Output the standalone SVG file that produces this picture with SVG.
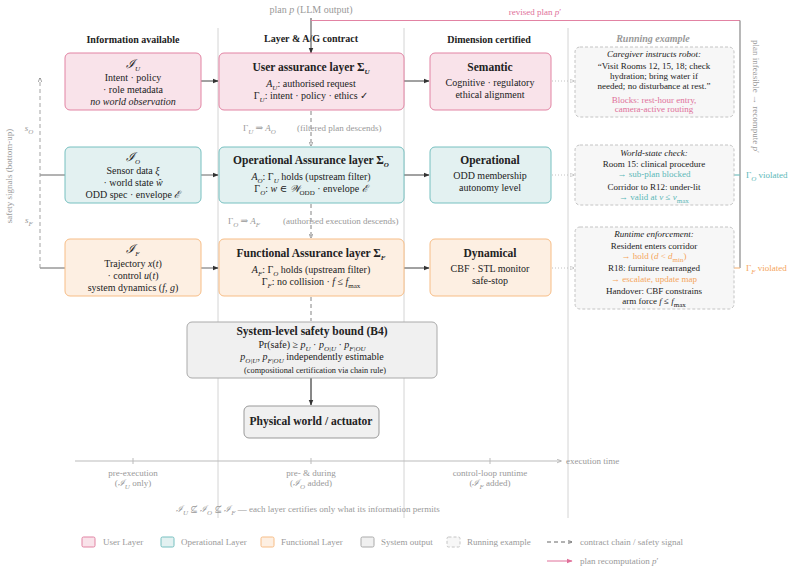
<svg xmlns="http://www.w3.org/2000/svg" width="797" height="572" viewBox="0 0 797 572">
<defs>
<style>
text{font-family:"Liberation Serif","DejaVu Serif",serif;font-size:10px;fill:#222;text-anchor:middle}
.b{font-weight:bold;font-size:11.5px}
.h{font-weight:bold;font-size:10px}
.i{font-style:italic}
.sb{font-size:7px;baseline-shift:-2.5px}
.g{fill:#999}
.sm{font-size:9px}
.xs{font-size:8.3px}
.l{text-anchor:start}
.pk{fill:#e0709a}
.tl{fill:#5bb8b8}
.or{fill:#f5a55c}
.U{fill:#f9e3ea;stroke:#e283a3;stroke-width:1}
.O{fill:#e3f1f1;stroke:#76c0c0;stroke-width:1}
.F{fill:#fdefe2;stroke:#f7bd86;stroke-width:1}
.S{fill:#f0f0f0;stroke:#aaa;stroke-width:1}
.R{fill:#f7f7f7;stroke:#c4c4c4;stroke-width:1;stroke-dasharray:3 2}
.sep{stroke:#d4d4d4;stroke-width:1;fill:none}
.ar{stroke:#444;stroke-width:1;fill:none;marker-end:url(#ah)}
.da{stroke:#777;stroke-width:0.9;fill:none;stroke-dasharray:4 3;marker-end:url(#ahg)}
.dt{stroke:#bbb;stroke-width:0.9;fill:none;stroke-dasharray:1 2;marker-end:url(#ahl)}
</style>
<marker id="ah" viewBox="0 0 10 10" refX="9" refY="5" markerWidth="6" markerHeight="6" orient="auto"><path d="M0,1 L10,5 L0,9 Z" fill="#333"/></marker>
<marker id="ahg" viewBox="0 0 10 10" refX="9" refY="5" markerWidth="5" markerHeight="5" orient="auto"><path d="M0,1 L10,5 L0,9" fill="none" stroke="#777" stroke-width="1.5"/></marker>
<marker id="ahl" viewBox="0 0 10 10" refX="9" refY="5" markerWidth="5" markerHeight="5" orient="auto"><path d="M0,1 L10,5 L0,9" fill="none" stroke="#bbb" stroke-width="1.5"/></marker>
<marker id="ahp" viewBox="0 0 10 10" refX="9" refY="5" markerWidth="6" markerHeight="6" orient="auto"><path d="M0,1 L10,5 L0,9 Z" fill="#e0709a"/></marker>
<marker id="aht" viewBox="0 0 10 10" refX="9" refY="5" markerWidth="5" markerHeight="5" orient="auto"><path d="M0,1 L10,5 L0,9" fill="none" stroke="#aaa" stroke-width="1.5"/></marker>
</defs>
<rect width="797" height="572" fill="#fff"/>

<g id="separators">
<line class="sep" x1="218" y1="28" x2="218" y2="518"/>
<line class="sep" x1="404" y1="28" x2="404" y2="518"/>
<line class="sep" x1="568" y1="28" x2="568" y2="518"/>
</g>

<g id="headers">
<text x="311" y="13" class="g">plan <tspan class="i">p</tspan> (LLM output)</text>
<text x="535" y="15" class="pk sm">revised plan <tspan class="i">p</tspan>′</text>
<text x="133" y="43" class="h">Information available</text>
<text x="311" y="42" class="h">Layer &amp; A/G contract</text>
<text x="489" y="43" class="h">Dimension certified</text>
<text x="653" y="42" class="h i g">Running example</text>
</g>

<g id="connectors">
<line class="ar" x1="311" y1="18" x2="311" y2="53"/>
<path d="M311,20.5 H740" stroke="#e283a3" stroke-width="1.2" fill="none"/>
<path d="M740,20.5 V268" stroke="#888" stroke-width="1.2" fill="none"/>
<line x1="734" y1="175" x2="740" y2="175" stroke="#76c0c0" stroke-width="1.2"/>
<line x1="734" y1="268" x2="740" y2="268" stroke="#f7bd86" stroke-width="1.2"/>
<line class="ar" x1="201" y1="81" x2="218" y2="81"/>
<line class="ar" x1="40" y1="175" x2="218" y2="175" style="stroke:#666"/>
<line class="ar" x1="40" y1="268" x2="218" y2="268" style="stroke:#666"/>
<line class="da" x1="40" y1="268" x2="40" y2="78" style="stroke:#999"/>
<line class="ar" x1="404" y1="81" x2="429" y2="81"/>
<line class="ar" x1="404" y1="175" x2="429" y2="175"/>
<line class="ar" x1="404" y1="268" x2="429" y2="268"/>
<line class="dt" x1="552" y1="81" x2="574" y2="81"/>
<line class="dt" x1="552" y1="175" x2="574" y2="175"/>
<line class="dt" x1="552" y1="268" x2="574" y2="268"/>
<line class="da" x1="311" y1="111" x2="311" y2="146"/>
<line class="da" x1="311" y1="204" x2="311" y2="238"/>
<line class="da" x1="311" y1="297" x2="311" y2="321" style="marker-end:none"/>
<line class="ar" x1="311" y1="364" x2="311" y2="405" style="stroke:#111"/>
</g>

<g id="connector-labels">
<text x="243" y="131" class="g sm l">Γ<tspan class="sb i">U</tspan> ⇒ <tspan class="i">A</tspan><tspan class="sb i">O</tspan></text>
<text x="297" y="131" class="g sm l">(filtered plan descends)</text>
<text x="228" y="224" class="g sm l">Γ<tspan class="sb i">O</tspan> ⇒ <tspan class="i">A</tspan><tspan class="sb i">F</tspan></text>
<text x="283" y="224" class="g sm l">(authorised execution descends)</text>
<text x="746" y="178" class="tl sm l">Γ<tspan class="sb i">O</tspan> violated</text>
<text x="746" y="271" class="or sm l">Γ<tspan class="sb i">F</tspan> violated</text>
<text transform="translate(753,40) rotate(90)" class="g sm l">plan infeasible → recompute <tspan class="i">p</tspan>′</text>
<text transform="translate(12,176) rotate(-90)" class="g sm">safety signals (bottom-up)</text>
<text x="29" y="131" class="g sm i">s<tspan class="sb">O</tspan></text>
<text x="29" y="223" class="g sm i">s<tspan class="sb">F</tspan></text>
</g>

<g id="info-U">
<rect class="U" x="65" y="53" width="136" height="57" rx="5"/>
<text x="133" y="68" style="font-size:12px"><tspan class="i">ℐ</tspan><tspan class="sb i">U</tspan></text>
<text x="133" y="81">Intent · policy</text>
<text x="133" y="93">· role metadata</text>
<text x="133" y="105" class="i">no world observation</text>
</g>
<g id="layer-U">
<rect class="U" x="219" y="53" width="185" height="57" rx="5"/>
<text x="311" y="71" class="b">User assurance layer Σ<tspan class="sb i">U</tspan></text>
<text x="311" y="87"><tspan class="i">A</tspan><tspan class="sb i">U</tspan>:  authorised request</text>
<text x="311" y="99">Γ<tspan class="sb i">U</tspan>:  intent · policy · ethics ✓</text>
</g>
<g id="dim-U">
<rect class="U" x="430" y="53" width="121" height="57" rx="5"/>
<text x="490" y="71" class="b">Semantic</text>
<text x="490" y="86">Cognitive · regulatory</text>
<text x="490" y="98">ethical alignment</text>
</g>
<g id="ex-U">
<rect class="R" x="575" y="47" width="159" height="70" rx="5"/>
<text x="654" y="57" class="sm i">Caregiver instructs robot:</text>
<text x="654" y="69" class="sm">“Visit Rooms 12, 15, 18; check</text>
<text x="654" y="79" class="sm">hydration; bring water if</text>
<text x="654" y="89" class="sm">needed; no disturbance at rest.”</text>
<text x="654" y="103" class="sm pk">Blocks:  rest-hour entry,</text>
<text x="654" y="112" class="sm pk">camera-active routing</text>
</g>

<g id="info-O">
<rect class="O" x="65" y="147" width="136" height="56" rx="5"/>
<text x="133" y="161" style="font-size:12px"><tspan class="i">ℐ</tspan><tspan class="sb i">O</tspan></text>
<text x="133" y="174">Sensor data <tspan class="i">ξ</tspan></text>
<text x="133" y="186">· world state <tspan class="i">ŵ</tspan></text>
<text x="133" y="198">ODD spec · envelope <tspan class="i">ℰ</tspan></text>
</g>
<g id="layer-O">
<rect class="O" x="219" y="147" width="185" height="56" rx="5"/>
<text x="311" y="164" class="b">Operational Assurance layer Σ<tspan class="sb i">O</tspan></text>
<text x="311" y="180"><tspan class="i">A</tspan><tspan class="sb i">O</tspan>: Γ<tspan class="sb i">U</tspan> holds (upstream filter)</text>
<text x="311" y="192">Γ<tspan class="sb i">O</tspan>:  <tspan class="i">w</tspan> ∈ <tspan class="i">𝒲</tspan><tspan class="sb">ODD</tspan> · envelope <tspan class="i">ℰ</tspan></text>
</g>
<g id="dim-O">
<rect class="O" x="430" y="147" width="121" height="56" rx="5"/>
<text x="490" y="164" class="b">Operational</text>
<text x="490" y="179">ODD membership</text>
<text x="490" y="191">autonomy level</text>
</g>
<g id="ex-O">
<rect class="R" x="575" y="145" width="159" height="60" rx="5"/>
<text x="654" y="156" class="sm i">World-state check:</text>
<text x="654" y="167" class="sm">Room 15:  clinical procedure</text>
<text x="654" y="177" class="sm tl">→ sub-plan blocked</text>
<text x="654" y="190" class="sm">Corridor to R12:  under-lit</text>
<text x="654" y="200" class="sm tl">→ valid at <tspan class="i">v</tspan>  ≤  <tspan class="i">v</tspan><tspan class="sb">max</tspan></text>
</g>

<g id="info-F">
<rect class="F" x="65" y="239" width="136" height="57" rx="5"/>
<text x="133" y="253" style="font-size:12px"><tspan class="i">ℐ</tspan><tspan class="sb i">F</tspan></text>
<text x="133" y="267">Trajectory <tspan class="i">x</tspan>(<tspan class="i">t</tspan>)</text>
<text x="133" y="279">· control <tspan class="i">u</tspan>(<tspan class="i">t</tspan>)</text>
<text x="133" y="291">system dynamics (<tspan class="i">f</tspan>, <tspan class="i">g</tspan>)</text>
</g>
<g id="layer-F">
<rect class="F" x="219" y="239" width="185" height="57" rx="5"/>
<text x="311" y="257" class="b">Functional Assurance layer Σ<tspan class="sb i">F</tspan></text>
<text x="311" y="273"><tspan class="i">A</tspan><tspan class="sb i">F</tspan>: Γ<tspan class="sb i">O</tspan> holds (upstream filter)</text>
<text x="311" y="285">Γ<tspan class="sb i">F</tspan>:  no collision · <tspan class="i">f</tspan>  ≤  <tspan class="i">f</tspan><tspan class="sb">max</tspan></text>
</g>
<g id="dim-F">
<rect class="F" x="430" y="239" width="121" height="57" rx="5"/>
<text x="490" y="257" class="b">Dynamical</text>
<text x="490" y="272">CBF · STL monitor</text>
<text x="490" y="284">safe-stop</text>
</g>
<g id="ex-F">
<rect class="R" x="575" y="227" width="159" height="82" rx="5"/>
<text x="654" y="237" class="sm i">Runtime enforcement:</text>
<text x="654" y="249" class="sm">Resident enters corridor</text>
<text x="654" y="259" class="sm or">→ hold (<tspan class="i">d</tspan>  &lt;  <tspan class="i">d</tspan><tspan class="sb">min</tspan>)</text>
<text x="654" y="271" class="sm">R18:  furniture rearranged</text>
<text x="654" y="282" class="sm or">→ escalate, update map</text>
<text x="654" y="294" class="sm">Handover:  CBF constrains</text>
<text x="654" y="304" class="sm">arm force <tspan class="i">f</tspan>  ≤  <tspan class="i">f</tspan><tspan class="sb">max</tspan></text>
</g>

<g id="system-bound">
<rect class="S" x="187" y="322" width="250" height="56" rx="5"/>
<text x="312" y="335" class="b">System-level safety bound (B4)</text>
<text x="312" y="348">Pr(safe)  ≥  <tspan class="i">p</tspan><tspan class="sb i">U</tspan> · <tspan class="i">p</tspan><tspan class="sb i">O|U</tspan> · <tspan class="i">p</tspan><tspan class="sb i">F|OU</tspan></text>
<text x="312" y="360"><tspan class="i">p</tspan><tspan class="sb i">O|U</tspan>, <tspan class="i">p</tspan><tspan class="sb i">F|OU</tspan> independently estimable</text>
<text x="315" y="373" class="xs">(compositional certification via chain rule)</text>
</g>
<g id="actuator">
<rect class="S" x="244" y="406" width="135" height="32" rx="5" style="stroke:#999"/>
<text x="311" y="425" class="b">Physical world / actuator</text>
</g>

<g id="timeline">
<line x1="75" y1="461" x2="561" y2="461" stroke="#bbb" stroke-width="1" marker-end="url(#aht)"/>
<line x1="133" y1="458" x2="133" y2="464" stroke="#bbb"/>
<line x1="311" y1="458" x2="311" y2="464" stroke="#bbb"/>
<line x1="490" y1="458" x2="490" y2="464" stroke="#bbb"/>
<text x="566" y="464" class="g sm l">execution time</text>
<text x="133" y="476" class="g sm">pre-execution</text>
<text x="133" y="486" class="g sm">(<tspan class="i">ℐ</tspan><tspan class="sb i">U</tspan> only)</text>
<text x="311" y="476" class="g sm">pre- &amp; during</text>
<text x="311" y="486" class="g sm">(<tspan class="i">ℐ</tspan><tspan class="sb i">O</tspan> added)</text>
<text x="490" y="476" class="g sm">control-loop runtime</text>
<text x="490" y="486" class="g sm">(<tspan class="i">ℐ</tspan><tspan class="sb i">F</tspan> added)</text>
<text x="176" y="512" class="g sm l"><tspan class="i">ℐ</tspan><tspan class="sb i">U</tspan> ⊈ <tspan class="i">ℐ</tspan><tspan class="sb i">O</tspan> ⊈ <tspan class="i">ℐ</tspan><tspan class="sb i">F</tspan>  —  each layer certifies only what its information permits</text>
</g>

<g id="legend">
<rect class="U" x="82" y="537" width="13" height="10" rx="1.5"/>
<text x="103" y="545" class="g sm l">User Layer</text>
<rect class="O" x="161" y="537" width="13" height="10" rx="1.5"/>
<text x="181" y="545" class="g sm l">Operational Layer</text>
<rect class="F" x="261" y="537" width="13" height="10" rx="1.5"/>
<text x="281" y="545" class="g sm l">Functional Layer</text>
<rect class="S" x="361" y="537" width="13" height="10" rx="1.5"/>
<text x="381" y="545" class="g sm l">System output</text>
<rect class="R" x="447" y="537" width="13" height="10" rx="1.5"/>
<text x="467" y="545" class="g sm l">Running example</text>
<line x1="547" y1="542" x2="572" y2="542" stroke="#555" stroke-width="0.9" stroke-dasharray="4 3" marker-end="url(#ahg)"/>
<text x="580" y="545" class="g sm l">contract chain / safety signal</text>
<line x1="547" y1="561" x2="572" y2="561" stroke="#e0709a" stroke-width="1" marker-end="url(#ahp)"/>
<text x="580" y="564" class="g sm l">plan recomputation <tspan class="i">p</tspan>′</text>
</g>
</svg>
